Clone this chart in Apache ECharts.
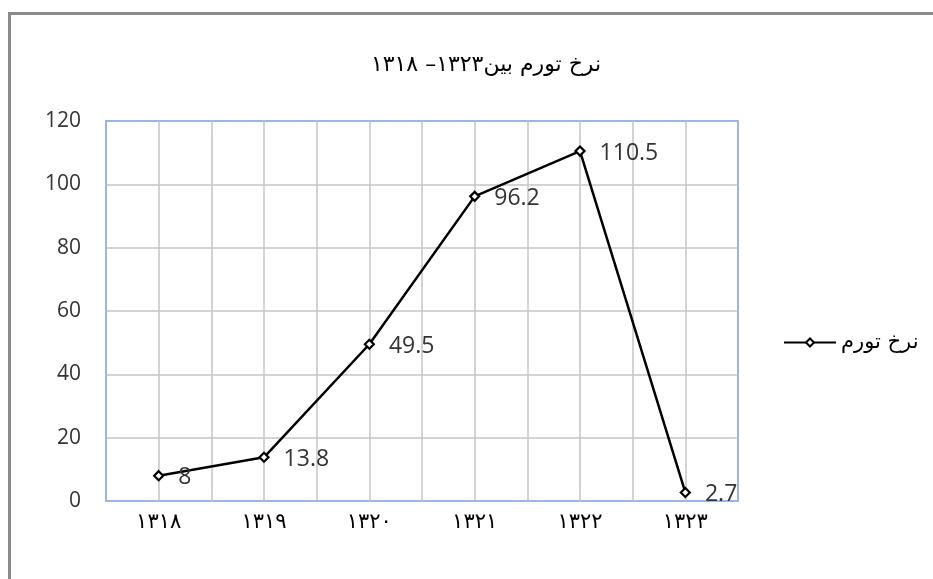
<!DOCTYPE html>
<html>
<head>
<meta charset="utf-8">
<script src="https://cdn.jsdelivr.net/npm/echarts@6/dist/echarts.min.js"></script>
<style>html,body{margin:0;padding:0;background:#fff;}#c{width:933px;height:579px;}</style>
</head>
<body>
<div id="c"></div>
<script>
const titleText = 'نرخ تورم بین۱۳۲۳– ۱۳۱۸';
const seriesName = 'نرخ تورم';
const categories = ['۱۳۱۸', '۱۳۱۹', '۱۳۲۰', '۱۳۲۱', '۱۳۲۲', '۱۳۲۳'];
const inflation = [8, 13.8, 49.5, 96.2, 110.5, 2.7];
const yMin = 0, yMax = 120, yStep = 20;

const chart = echarts.init(document.getElementById('c'));
const blue = '#9db6e2';
const gray = '#c4c4c4';
const yLineColors = [];
for (let v = yMin; v <= yMax; v += yStep) yLineColors.push(v === yMin || v === yMax ? blue : gray);
const xSlots = categories.length * 2;
const xLineColors = [];
for (let i = 0; i <= xSlots; i++) xLineColors.push(i === 0 || i === xSlots ? blue : gray);

chart.setOption({
  backgroundColor: '#fff',
  animation: false,
  title: {
    text: titleText,
    left: 481, top: 49, textAlign: 'center',
    textStyle: { fontFamily: 'DejaVu Sans', fontSize: 22, fontWeight: 'normal', color: '#000' }
  },
  legend: {
    left: 778, top: 327, align: 'left',
    itemWidth: 52, itemHeight: 10, itemGap: 5,
    textStyle: { fontFamily: 'DejaVu Sans', fontSize: 21, color: '#000' },
    data: [seriesName]
  },
  graphic: [{
    type: 'rect', silent: true, z: 100,
    shape: { x: 9.5, y: 13.5, width: 1000, height: 1000 },
    style: { fill: 'none', stroke: '#8a8a8a', lineWidth: 3 }
  }],
  grid: { left: 106, right: 195, top: 121, bottom: 78, show: true, borderColor: blue, borderWidth: 2 },
  xAxis: [{
    type: 'category', data: categories, boundaryGap: true,
    axisLine: { show: false }, axisTick: { show: false },
    splitLine: { show: false },
    axisLabel: { fontFamily: 'DejaVu Sans', fontSize: 21, color: '#000', margin: 11 }
  }, {
    type: 'value', min: 0, max: xSlots, interval: 1, position: 'top',
    axisLine: { show: false }, axisTick: { show: false }, axisLabel: { show: false },
    splitLine: { show: true, lineStyle: { color: xLineColors, width: 1.5 } }
  }],
  yAxis: {
    type: 'value', min: yMin, max: yMax, interval: yStep,
    axisLine: { show: false }, axisTick: { show: false },
    axisLabel: { fontFamily: 'Open Sans', fontSize: 21, color: '#333', margin: 25 },
    splitLine: { show: true, lineStyle: { color: yLineColors, width: 1.5 } }
  },
  series: [{
    name: seriesName, type: 'line', xAxisIndex: 0, data: inflation,
    symbol: 'diamond', symbolSize: 9, showAllSymbol: true,
    lineStyle: { color: '#000', width: 2.5 },
    itemStyle: { color: '#fff', borderColor: '#000', borderWidth: 2.2 },
    label: {
      show: true, position: 'right', distance: 14, offset: [0, 2],
      fontFamily: 'Open Sans', fontSize: 23, color: '#333'
    },
    z: 5
  }]
});
</script>
</body>
</html>
